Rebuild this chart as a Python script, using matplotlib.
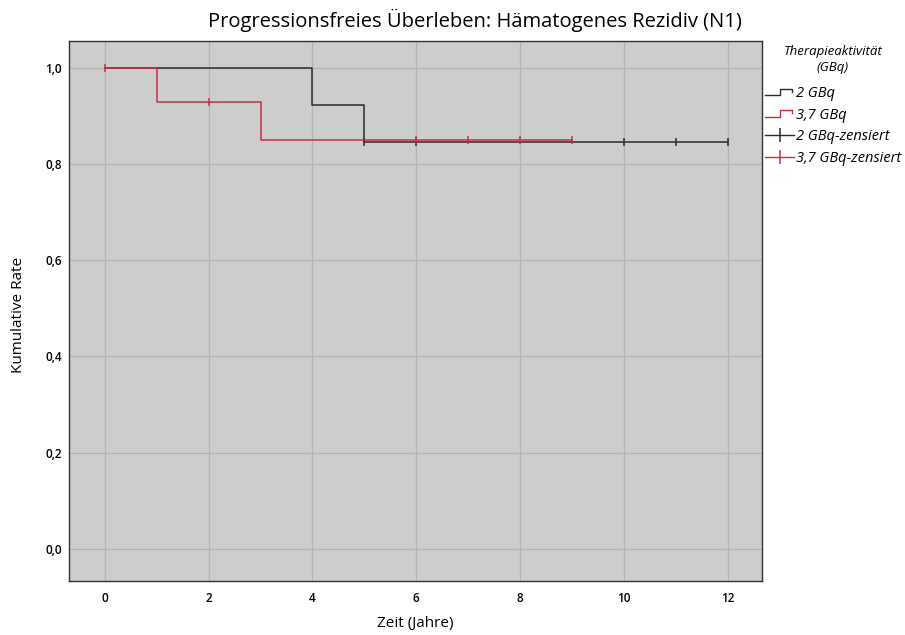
import numpy as np
import matplotlib
matplotlib.use("Agg")
import matplotlib.pyplot as plt
from matplotlib.lines import Line2D
from matplotlib.patches import Rectangle
from matplotlib.legend_handler import HandlerBase
from matplotlib.ticker import FuncFormatter

plt.rcParams["font.family"] = ["Open Sans", "DejaVu Sans"]

# Kaplan-Meier step data per group
t_2gbq = [0, 4, 5, 12]
s_2gbq = [1.0, 0.923, 0.846, 0.846]
cens_t_2gbq = [5, 6, 10, 11, 12]

t_37gbq = [0, 1, 3, 9]
s_37gbq = [1.0, 0.929, 0.851, 0.851]
cens_t_37gbq = [0, 2, 6, 7, 8, 9]

x_ticks = [0, 2, 4, 6, 8, 10, 12]
y_ticks = [0.0, 0.2, 0.4, 0.6, 0.8, 1.0]

BLACK = "#2b2b2b"
RED = "#c62f43"
W, H = 905, 635


def surv_at(times, surv, t):
    idx = np.searchsorted(times, t, side="right") - 1
    return surv[idx]


class StepHandler(HandlerBase):
    def __init__(self, color):
        super().__init__()
        self.color = color

    def create_artists(self, legend, orig_handle, xd, yd, width, height, fontsize, trans):
        xm = xd + width * 0.5
        xr = xd + width * 0.92
        lo, hi = yd + height * 0.15, yd + height * 0.8
        xs = [xd, xm, xm, xr, xr]
        ys = [lo, lo, hi, hi, yd + height * 0.5]
        ln = Line2D(xs, ys, color=self.color, lw=1.0, transform=trans)
        return [ln]


class StepKey2:
    pass


class StepKey37:
    pass


fig = plt.figure(figsize=(W / 100, H / 100), dpi=100)
ax = fig.add_axes([69 / W, 1 - 581 / H, (762 - 69) / W, (581 - 41) / H])
ax.set_facecolor("#cdcdcd")

ax.step(t_2gbq, s_2gbq, where="post", color=BLACK, lw=1.1, zorder=3)
ax.step(t_37gbq, s_37gbq, where="post", color=RED, lw=1.1, zorder=4)

ax.plot(cens_t_2gbq, [surv_at(t_2gbq, s_2gbq, t) for t in cens_t_2gbq],
        ls="none", marker="|", ms=6, mew=1.1, color=BLACK, zorder=3)
ax.plot(cens_t_37gbq, [surv_at(t_37gbq, s_37gbq, t) for t in cens_t_37gbq],
        ls="none", marker="|", ms=6, mew=1.1, color=RED, zorder=4)

ax.set_xlim(-0.69, 12.66)
ax.set_ylim(-0.067, 1.056)
ax.set_xticks(x_ticks)
ax.set_yticks(y_ticks)
ax.yaxis.set_major_formatter(FuncFormatter(lambda v, p: f"{v:.1f}".replace(".", ",")))
ax.tick_params(length=0, labelsize=8.5)
ax.tick_params(axis="x", pad=8)
ax.tick_params(axis="y", pad=5)
for lbl in ax.get_xticklabels() + ax.get_yticklabels():
    lbl.set_fontweight("semibold")
ax.grid(True, color="#b4b4b4", lw=0.9)
ax.set_axisbelow(True)
for sp in ax.spines.values():
    sp.set_color("#333333")
    sp.set_linewidth(1.0)

fig.text(415 / W, 1 - 623 / H, "Zeit (Jahre)", ha="center", va="center", fontsize=11)
fig.text(19 / W, 1 - 315 / H, "Kumulative Rate", ha="center", va="center",
         rotation=90, fontsize=11)
fig.text(475 / W, 1 - 20 / H, "Progressionsfreies Überleben: Hämatogenes Rezidiv (N1)",
         ha="center", va="center", fontsize=14.5)

# white panel behind the legend, over the upper right edge of the plot
fig.add_artist(Rectangle((764 / W, 1 - 190 / H), (W - 764) / W, 190 / H,
                         transform=fig.transFigure, facecolor="white",
                         edgecolor="none", zorder=4))

# legend heading, two centred lines
for txt, yp in [("Therapieaktivität", 52), ("(GBq)", 67)]:
    fig.text(833 / W, 1 - yp / H, txt, ha="center", va="center",
             fontsize=9.5, style="italic", zorder=6)

h_cens_2 = Line2D([], [], color=BLACK, lw=1.0, marker="|", ms=10, mew=1.1)
h_cens_37 = Line2D([], [], color=RED, lw=1.0, marker="|", ms=10, mew=1.1)

leg = fig.legend(
    [StepKey2(), StepKey37(), h_cens_2, h_cens_37],
    ["2 GBq", "3,7 GBq", "2 GBq-zensiert", "3,7 GBq-zensiert"],
    handler_map={StepKey2: StepHandler(BLACK), StepKey37: StepHandler(RED)},
    loc="upper left", bbox_to_anchor=(765 / W, 1 - 86 / H),
    frameon=False,
    handlelength=2.0, handletextpad=0.15, labelspacing=0.45,
    borderpad=0, borderaxespad=0,
    prop={"style": "italic", "size": 10.5},
)
leg.set_zorder(5)

fig.savefig("out.png", dpi=100)
